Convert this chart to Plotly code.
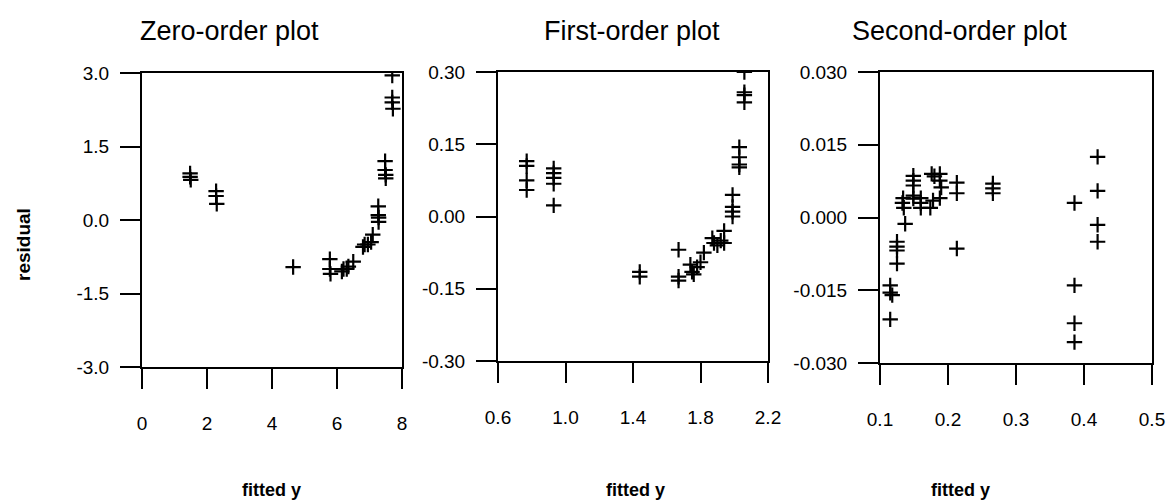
import plotly.graph_objects as go

W, H = 1171, 504

# ---------------- data ----------------
zero_x = [1.48, 1.48, 1.5, 2.28, 2.28, 2.3, 4.65, 5.78, 5.78, 5.8,
          6.15, 6.2, 6.3, 6.35, 6.5, 6.8, 6.85, 6.95, 7.05, 7.1,
          7.27, 7.27, 7.28, 7.28, 7.48, 7.48, 7.5, 7.5, 7.7, 7.7, 7.7, 7.72]
zero_y = [0.95, 0.88, 0.82, 0.59, 0.49, 0.33, -0.96, -0.8, -1.0, -1.1,
          -1.05, -1.0, -1.0, -0.95, -0.85, -0.55, -0.5, -0.5, -0.45, -0.3,
          0.28, 0.1, 0.05, -0.04, 1.2, 1.02, 0.92, 0.85, 2.95, 2.5, 2.4, 2.27]

first_x = [0.77, 0.77, 0.77, 0.77, 0.93, 0.93, 0.93, 0.93, 0.93,
           1.44, 1.44, 1.67, 1.67, 1.67,
           1.74, 1.75, 1.76, 1.78, 1.8, 1.82,
           1.87, 1.88, 1.9, 1.92, 1.94, 1.94,
           1.99, 1.99, 1.99, 1.99, 2.03, 2.03, 2.03, 2.03,
           2.06, 2.06, 2.06, 2.06]
first_y = [0.115, 0.105, 0.075, 0.055, 0.10, 0.09, 0.08, 0.068, 0.023,
           -0.115, -0.125, -0.069, -0.125, -0.133,
           -0.10, -0.115, -0.12, -0.105, -0.095, -0.075,
           -0.045, -0.055, -0.06, -0.05, -0.03, -0.055,
           0.045, 0.02, 0.01, 0.0, 0.144, 0.123, 0.108, 0.102,
           0.30, 0.258, 0.252, 0.237]

second_x = [0.115, 0.115, 0.118, 0.115,
            0.125, 0.125, 0.125, 0.125, 0.137,
            0.134, 0.133, 0.135,
            0.149, 0.149, 0.149, 0.149, 0.149,
            0.16, 0.16, 0.16,
            0.176, 0.18, 0.188, 0.188, 0.19, 0.188, 0.178, 0.174,
            0.213, 0.213, 0.213,
            0.266, 0.266, 0.266,
            0.386, 0.386, 0.386, 0.386,
            0.42, 0.42, 0.42, 0.42]
second_y = [-0.014, -0.0155, -0.016, -0.021,
            -0.005, -0.006, -0.0068, -0.0095, -0.0013,
            0.004, 0.003, 0.002,
            0.0086, 0.0076, 0.0066, 0.0045, 0.0039,
            0.004, 0.003, 0.002,
            0.009, 0.0085, 0.009, 0.0076, 0.0062, 0.004, 0.0035, 0.002,
            0.0072, 0.005, -0.0064,
            0.007, 0.006, 0.005,
            0.003, -0.014, -0.0218, -0.0257,
            0.0125, 0.0055, -0.0015, -0.005]

titles = ["Zero-order plot", "First-order plot", "Second-order plot"]

x_ranges = [[0, 8], [0.6, 2.2], [0.1, 0.5]]
x_tickvals = [[0, 2, 4, 6, 8], [0.6, 1.0, 1.4, 1.8, 2.2], [0.1, 0.2, 0.3, 0.4, 0.5]]
x_ticktext = [["0", "2", "4", "6", "8"],
              ["0.6", "1.0", "1.4", "1.8", "2.2"],
              ["0.1", "0.2", "0.3", "0.4", "0.5"]]

y_ranges = [[-3.0, 3.0], [-0.30, 0.30], [-0.030, 0.030]]
y_tickvals = [[-3.0, -1.5, 0.0, 1.5, 3.0],
              [-0.30, -0.15, 0.0, 0.15, 0.30],
              [-0.030, -0.015, 0.0, 0.015, 0.030]]
y_ticktext = [["-3.0", "-1.5", "0.0", "1.5", "3.0"],
              ["-0.30", "-0.15", "0.00", "0.15", "0.30"],
              ["-0.030", "-0.015", "0.000", "0.015", "0.030"]]

# ---------------- layout (pixel boxes) ----------------
boxes = [(142, 402, 73, 367), (498, 768, 72, 361), (880, 1152, 72, 363)]
title_pos = [(229, 31), (632, 31), (959, 31)]
xlabel_pos = [(271, 490), (635, 490), (960, 490)]

FONT = "Liberation Sans, Arial, sans-serif"

fig = go.Figure()
series = [(zero_x, zero_y), (first_x, first_y), (second_x, second_y)]
for i, (xs, ys) in enumerate(series):
    suffix = "" if i == 0 else str(i + 1)
    fig.add_trace(go.Scatter(
        x=xs, y=ys, mode="markers",
        xaxis="x" + suffix, yaxis="y" + suffix,
        marker=dict(symbol="cross-thin", size=11, color="black",
                    line=dict(width=2.2, color="black")),
        showlegend=False, hoverinfo="x+y"))

layout = dict(width=W, height=H, margin=dict(l=0, r=0, t=0, b=0),
              paper_bgcolor="white", plot_bgcolor="white",
              font=dict(family=FONT, color="black", size=19))

for i in range(3):
    suffix = "" if i == 0 else str(i + 1)
    x0, x1, yt, yb = boxes[i]
    layout["xaxis" + suffix] = dict(
        domain=[x0 / W, x1 / W], range=x_ranges[i], anchor="y" + suffix,
        tickmode="array", tickvals=x_tickvals[i], ticktext=x_ticktext[i],
        ticks="outside", ticklen=20, tickwidth=2, tickcolor="black",
        ticklabelstandoff=18,
        showline=True, linewidth=2, linecolor="black", mirror=True,
        showgrid=False, zeroline=False, automargin=False,
        tickfont=dict(size=19, family=FONT, color="black"))
    layout["yaxis" + suffix] = dict(
        domain=[1 - yb / H, 1 - yt / H], range=y_ranges[i], anchor="x" + suffix,
        tickmode="array", tickvals=y_tickvals[i], ticktext=y_ticktext[i],
        ticks="outside", ticklen=20, tickwidth=2, tickcolor="black",
        ticklabelstandoff=7,
        showline=True, linewidth=2, linecolor="black", mirror=True,
        showgrid=False, zeroline=False, automargin=False,
        tickfont=dict(size=19, family=FONT, color="black"))

annotations = []
for i in range(3):
    tx, ty = title_pos[i]
    annotations.append(dict(text=titles[i], x=tx / W, y=1 - ty / H,
                            xref="paper", yref="paper", showarrow=False,
                            xanchor="center", yanchor="middle",
                            font=dict(size=27, family=FONT, color="black")))
    lx, ly = xlabel_pos[i]
    annotations.append(dict(text="<b>fitted y</b>", x=lx / W, y=1 - ly / H,
                            xref="paper", yref="paper", showarrow=False,
                            xanchor="center", yanchor="middle",
                            font=dict(size=18, family=FONT, color="black")))
annotations.append(dict(text="<b>residual</b>", x=23 / W, y=1 - 245 / H,
                        xref="paper", yref="paper", showarrow=False,
                        textangle=-90, xanchor="center", yanchor="middle",
                        font=dict(size=19, family=FONT, color="black")))
layout["annotations"] = annotations

fig.update_layout(**layout)
fig.write_html("out.html",
               config={"displayModeBar": False},
               post_script="document.body.style.margin='0';document.body.style.overflow='hidden';")
